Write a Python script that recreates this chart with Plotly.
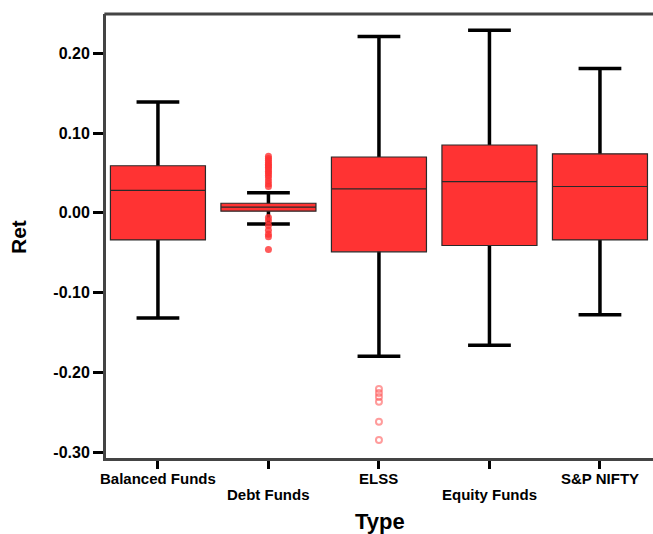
import plotly.graph_objects as go

categories = ["Balanced Funds", "Debt Funds", "ELSS", "Equity Funds", "S&P NIFTY"]
q1 = [-0.034, 0.002, -0.049, -0.041, -0.034]
median = [0.028, 0.007, 0.030, 0.039, 0.033]
q3 = [0.059, 0.012, 0.070, 0.085, 0.074]
lower_whisker = [-0.132, -0.014, -0.180, -0.166, -0.128]
upper_whisker = [0.139, 0.025, 0.221, 0.229, 0.181]

debt_outliers = [0.071, 0.068, 0.066, 0.063, 0.061, 0.059, 0.057, 0.055, 0.052, 0.050,
                 0.047, 0.044, 0.040, 0.036, 0.033,
                 -0.006, -0.010, -0.016, -0.022, -0.027, -0.030, -0.046]
elss_outliers = [-0.221, -0.226, -0.231, -0.237, -0.262, -0.285]

ytick_vals = [0.20, 0.10, 0.00, -0.10, -0.20, -0.30]
ytick_text = ["0.20", "0.10", "0.00", "-0.10", "-0.20", "-0.30"]

FONT = "Liberation Sans, Arial, sans-serif"
xidx = list(range(len(categories)))

fig = go.Figure()
# whiskers (thick black)
fig.add_trace(go.Box(
    x=xidx, q1=median, median=median, q3=median,
    lowerfence=lower_whisker, upperfence=upper_whisker,
    line=dict(color="black", width=3.5), fillcolor="black",
    whiskerwidth=0.45, width=0.86, boxpoints=False, hoverinfo="skip",
    showlegend=False,
))
# boxes
fig.add_trace(go.Box(
    x=xidx, q1=q1, median=median, q3=q3,
    lowerfence=q1, upperfence=q3,
    line=dict(color="#2a2a2a", width=1.2), fillcolor="#ff3333",
    whiskerwidth=0, width=0.86, boxpoints=False, showlegend=False,
))
fig.add_trace(go.Scatter(
    x=[1] * len(debt_outliers), y=debt_outliers, mode="markers",
    marker=dict(color="rgba(255,50,50,0.8)", size=7, symbol="circle"),
    showlegend=False,
))
fig.add_trace(go.Scatter(
    x=[2] * len(elss_outliers), y=elss_outliers, mode="markers",
    marker=dict(color="rgba(255,90,90,0.6)", size=6, symbol="circle-open",
                line=dict(width=2)),
    showlegend=False,
))

# staggered category labels (two rows, like the reference)
cat_annotations = [
    dict(text=c, x=i, xref="x", yref="paper",
         y=-(478 - 458) / 444 if i % 2 == 0 else -(495 - 458) / 444,
         showarrow=False, xanchor="center", yanchor="middle",
         font=dict(size=15, family=FONT, weight="bold"))
    for i, c in enumerate(categories)
]

fig.update_layout(
    width=653, height=534,
    margin=dict(l=106, r=0, t=14, b=76),
    plot_bgcolor="white", paper_bgcolor="white",
    boxmode="overlay",
    font=dict(family=FONT, color="black"),
    xaxis=dict(
        range=[-0.47, 4.48], tickvals=xidx, ticktext=[""] * len(xidx),
        showline=True, linecolor="#444444", linewidth=3,
        ticks="outside", ticklen=8, tickwidth=3, tickcolor="black",
        showgrid=False, zeroline=False, automargin=False,
    ),
    yaxis=dict(
        range=[-0.3075, 0.2493], tickvals=ytick_vals, ticktext=ytick_text,
        showline=True, linecolor="#444444", linewidth=3,
        ticks="outside", ticklen=10, tickwidth=3, tickcolor="black",
        tickfont=dict(size=16, family=FONT, weight="bold"),
        showgrid=False, zeroline=False, automargin=False,
    ),
    shapes=[dict(type="line", xref="paper", yref="paper", x0=-0.003, x1=1, y0=1, y1=1,
                 line=dict(color="#444444", width=3))],
    annotations=cat_annotations + [
        dict(text="Type", xref="paper", yref="paper", x=(380 - 106) / 547, y=-(521 - 458) / 444,
             showarrow=False, xanchor="center", yanchor="middle",
             font=dict(size=22, family=FONT, weight="bold")),
        dict(text="Ret", xref="paper", yref="paper", x=-(106 - 18) / 547, y=(458 - 237) / 444,
             showarrow=False, xanchor="center", yanchor="middle", textangle=-90,
             font=dict(size=21, family=FONT, weight="bold")),
    ],
)

fig.write_html("out.html", config={"displayModeBar": False},
               post_script="document.body.style.margin='0';document.body.style.overflow='hidden';")
